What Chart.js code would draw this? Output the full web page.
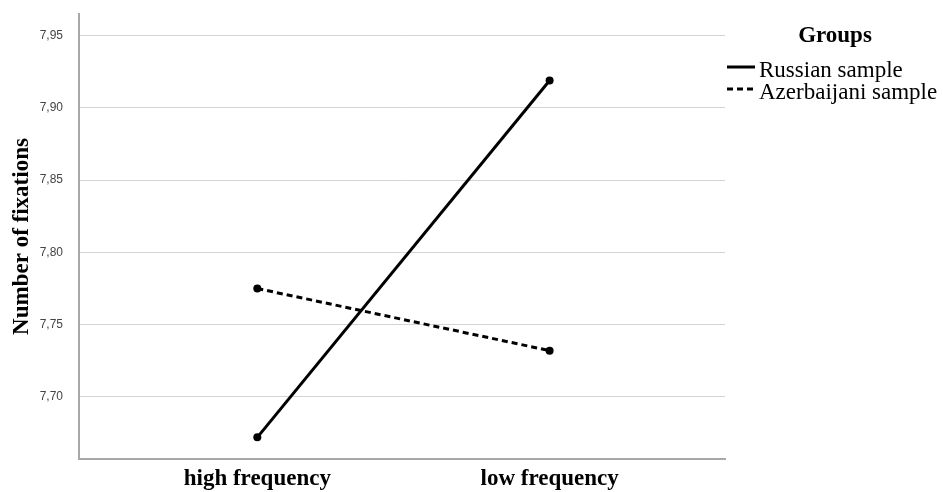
<!DOCTYPE html>
<html>
<head>
<meta charset="utf-8">
<script src="https://cdn.jsdelivr.net/npm/chart.js@4"></script>
<style>
  html, body { margin: 0; padding: 0; background: #fff; }
  #wrap { width: 943px; height: 492px; }
</style>
</head>
<body>
<div id="wrap"><canvas id="chart" width="943" height="492"></canvas></div>
<script>
// frequency conditions (x axis)
const categories = ["high frequency", "low frequency"];
// mean number of fixations per group
const russian = [7.672, 7.919];
const azerbaijani = [7.775, 7.732];
const groupNames = ["Russian sample", "Azerbaijani sample"];
const yTicks = [7.70, 7.75, 7.80, 7.85, 7.90, 7.95];

const SERIF = '"Liberation Serif", "Times New Roman", serif';
const SANS = '"Liberation Sans", Arial, sans-serif';

const toPoints = arr => arr.map((v, i) => ({ x: i, y: v }));

// legend drawn to the right of the plot, like the SPSS output
const groupsLegend = {
  id: 'groupsLegend',
  afterDraw(chart) {
    const ctx = chart.ctx;
    ctx.save();
    ctx.fillStyle = '#000';
    ctx.font = 'bold 23px ' + SERIF;
    ctx.textAlign = 'center';
    ctx.textBaseline = 'alphabetic';
    ctx.fillText('Groups', 835, 42);

    ctx.font = '23px ' + SERIF;
    ctx.textAlign = 'left';
    chart.data.datasets.forEach((ds, i) => {
      const y = 67 + i * 22;
      ctx.strokeStyle = ds.borderColor;
      ctx.lineWidth = ds.borderWidth;
      ctx.setLineDash(ds.borderDash || []);
      ctx.beginPath();
      ctx.moveTo(727, y);
      ctx.lineTo(755, y);
      ctx.stroke();
      ctx.fillText(ds.label, 759, y + 10);
    });
    ctx.restore();
  }
};

new Chart(document.getElementById('chart'), {
  type: 'line',
  data: {
    datasets: [
      {
        label: groupNames[0],
        data: toPoints(russian),
        borderColor: '#000',
        backgroundColor: '#000',
        borderWidth: 3,
        pointRadius: 4,
        pointBackgroundColor: '#000',
        pointBorderWidth: 0
      },
      {
        label: groupNames[1],
        data: toPoints(azerbaijani),
        borderColor: '#000',
        backgroundColor: '#000',
        borderWidth: 3,
        borderDash: [6, 4],
        pointRadius: 4,
        pointBackgroundColor: '#000',
        pointBorderWidth: 0
      }
    ]
  },
  options: {
    responsive: false,
    animation: false,
    layout: { padding: { top: 14, right: 218, left: 0, bottom: 0 } },
    plugins: {
      legend: { display: false },
      tooltip: { enabled: false }
    },
    scales: {
      x: {
        type: 'linear',
        min: -0.61,
        max: 1.60,
        afterBuildTicks: s => { s.ticks = categories.map((c, i) => ({ value: i })); },
        afterFit: s => { s.height = 33; s.paddingLeft = 0; s.paddingRight = 0; },
        ticks: {
          callback: v => categories[v],
          color: '#000',
          font: { family: SERIF, size: 23, weight: 'bold' },
          padding: 6,
          maxRotation: 0
        },
        grid: { display: false, drawTicks: false },
        border: { display: true, color: '#a8a8a8', width: 2 }
      },
      y: {
        min: 7.657,
        max: 7.965,
        afterBuildTicks: s => { s.ticks = yTicks.map(v => ({ value: v })); },
        afterFit: s => { s.width = 79; s.paddingTop = 0; s.paddingBottom = 0; },
        ticks: {
          callback: v => v.toFixed(2).replace('.', ','),
          color: '#444',
          font: { family: SANS, size: 12 },
          padding: 16
        },
        grid: { color: '#d4d4d4', lineWidth: 1, drawTicks: false },
        border: { display: true, color: '#a8a8a8', width: 2 },
        title: {
          display: true,
          text: 'Number of fixations',
          color: '#000',
          font: { family: SERIF, size: 23, weight: 'bold' },
          padding: { top: 8, bottom: 0 }
        }
      }
    }
  },
  plugins: [groupsLegend]
});
</script>
</body>
</html>
